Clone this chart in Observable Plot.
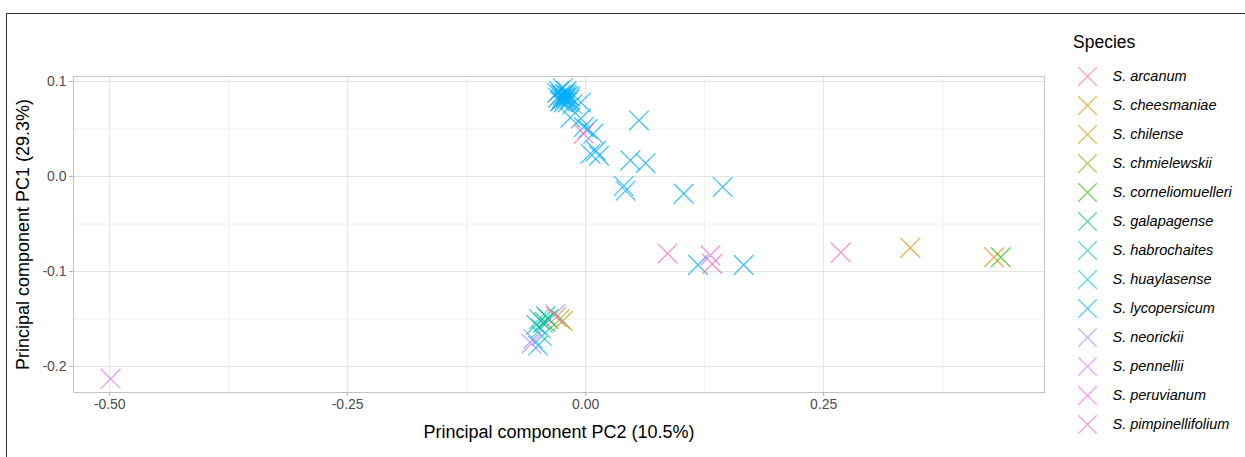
<!DOCTYPE html>
<html>
<head>
<meta charset="utf-8">
<script src="https://cdn.jsdelivr.net/npm/d3@7"></script>
<script src="https://cdn.jsdelivr.net/npm/@observablehq/plot@0.6"></script>
<style>
  html, body { margin: 0; padding: 0; background: white; }
  #wrap { position: relative; width: 1245px; height: 457px; background: white; overflow: hidden; font-family: "Liberation Sans", Arial, sans-serif; }
  #wrap svg { position: absolute; top: 0; background: transparent; }
  #border { position: absolute; left: 6px; top: 13px; right: -2px; bottom: -2px; border-top: 1px solid #333; border-left: 1px solid #333; pointer-events: none; }
  #legtitle { position: absolute; left: 1073px; top: 32px; font-size: 17.5px; line-height: 20px; color: #000; }
</style>
</head>
<body>
<div id="wrap">
  <div id="main"></div>
  <div id="legend"></div>
  <div id="legtitle">Species</div>
  <div id="border"></div>
</div>
<script>
const species = ["S. arcanum","S. cheesmaniae","S. chilense","S. chmielewskii","S. corneliomuelleri","S. galapagense","S. habrochaites","S. huaylasense","S. lycopersicum","S. neorickii","S. pennellii","S. peruvianum","S. pimpinellifolium"];
const colors = ["#F8766D","#E18A00","#BE9C00","#8CAB00","#24B700","#00BE70","#00C1AB","#00BBDA","#00ACFC","#8B93FF","#D575FE","#F962DD","#FF65AC"];

const xTicks = [-0.5, -0.25, 0, 0.25];
const xMinor = [-0.375, -0.125, 0.125, 0.375];
const yTicks = [0.1, 0, -0.1, -0.2];
const yMinor = [0.05, -0.05, -0.15];

const xLabel = "Principal component PC2 (10.5%)";
const yLabel = "Principal component PC1 (29.3%)";

// Each point: species, PC2 (x), PC1 (y)
const pointSpecies = [
  // lycopersicum dense cluster
  "S. lycopersicum","S. lycopersicum","S. lycopersicum","S. lycopersicum","S. lycopersicum",
  "S. lycopersicum","S. lycopersicum","S. lycopersicum","S. lycopersicum","S. lycopersicum",
  "S. lycopersicum","S. lycopersicum","S. lycopersicum","S. lycopersicum","S. lycopersicum",
  "S. lycopersicum","S. lycopersicum","S. lycopersicum","S. lycopersicum","S. lycopersicum",
  // lycopersicum trail
  "S. lycopersicum","S. lycopersicum","S. lycopersicum","S. lycopersicum","S. lycopersicum",
  "S. lycopersicum","S. lycopersicum","S. lycopersicum","S. lycopersicum","S. lycopersicum",
  "S. lycopersicum","S. lycopersicum","S. lycopersicum","S. lycopersicum","S. lycopersicum",
  "S. lycopersicum","S. lycopersicum","S. lycopersicum",
  // pink / right side
  "S. pimpinellifolium","S. pimpinellifolium","S. peruvianum","S. pimpinellifolium","S. pimpinellifolium",
  "S. cheesmaniae","S. cheesmaniae","S. corneliomuelleri",
  // bottom cluster
  "S. habrochaites","S. habrochaites","S. habrochaites","S. habrochaites","S. habrochaites",
  "S. galapagense","S. galapagense","S. arcanum","S. chmielewskii","S. chilense",
  "S. neorickii","S. neorickii","S. huaylasense","S. huaylasense","S. pennellii",
  // outlier
  "S. pennellii"
];
const pointPC2 = [
  -0.028,-0.024,-0.020,-0.026,-0.022,
  -0.018,-0.029,-0.025,-0.021,-0.017,
  -0.027,-0.023,-0.019,-0.024,-0.020,
  -0.026,-0.022,-0.016,-0.014,-0.030,
  -0.005,-0.016,-0.005,-0.002,0.002,
  0.008,0.011,0.014,0.005,0.056,
  0.047,0.063,0.040,0.042,0.103,
  0.144,0.118,0.166,
  -0.002,0.086,0.131,0.133,0.268,
  0.341,0.429,0.436,
  -0.049,-0.045,-0.052,-0.042,-0.047,
  -0.043,-0.039,-0.031,-0.027,-0.024,
  -0.055,-0.032,-0.050,-0.046,-0.057,
  -0.499
];
const pointPC1 = [
  0.090,0.093,0.090,0.086,0.087,
  0.085,0.083,0.082,0.083,0.081,
  0.079,0.078,0.078,0.085,0.086,
  0.080,0.081,0.084,0.076,0.088,
  0.078,0.062,0.061,0.052,0.050,
  0.045,0.027,0.022,0.024,0.059,
  0.017,0.014,-0.010,-0.015,-0.018,
  -0.011,-0.093,-0.093,
  0.045,-0.081,-0.083,-0.092,-0.080,
  -0.075,-0.085,-0.085,
  -0.150,-0.154,-0.156,-0.147,-0.160,
  -0.153,-0.150,-0.148,-0.150,-0.152,
  -0.171,-0.145,-0.178,-0.168,-0.176,
  -0.213
];

const points = pointSpecies.map((s, i) => ({species: s, pc2: pointPC2[i], pc1: pointPC1[i]}));

const W = 1245, H = 457;
const font = "Liberation Sans, Arial, sans-serif";

const main = Plot.plot({
  width: W, height: H,
  marginLeft: 73, marginRight: 201, marginTop: 76, marginBottom: 65,
  style: {fontFamily: font, background: "transparent", overflow: "visible"},
  x: {domain: [-0.538, 0.482]},
  y: {domain: [-0.2274, 0.1053]},
  color: {domain: species, range: colors},
  marks: [
    Plot.ruleX(xMinor, {stroke: "#f0f0f0", strokeWidth: 1}),
    Plot.ruleY(yMinor, {stroke: "#f0f0f0", strokeWidth: 1}),
    Plot.ruleX(xTicks, {stroke: "#e4e4e4", strokeWidth: 1}),
    Plot.ruleY(yTicks, {stroke: "#e4e4e4", strokeWidth: 1}),
    Plot.frame({stroke: "#c4c4c4", strokeWidth: 1}),
    Plot.dot(points, {x: "pc2", y: "pc1", stroke: "species", symbol: "times", r: 9, strokeWidth: 1.25, strokeOpacity: 0.75}),
    Plot.axisX({ticks: xTicks, tickFormat: d => d.toFixed(2), label: null, tickSize: 4, tickPadding: 3, fontSize: 14, fill: "#4d4d4d", stroke: "#b3b3b3"}),
    Plot.axisY({ticks: yTicks, tickFormat: d => d.toFixed(1), label: null, tickSize: 4, tickPadding: 3, fontSize: 14, fill: "#4d4d4d", stroke: "#b3b3b3"}),
    Plot.axisX({ticks: [], label: xLabel, labelAnchor: "center", labelArrow: "none", labelOffset: 45, fontSize: 18, fill: "#000"}),
    Plot.axisY({ticks: [], label: yLabel, labelAnchor: "center", labelArrow: "none", labelOffset: 57, fontSize: 18, fill: "#000"})
  ]
});
main.style.left = "0px";
document.getElementById("main").appendChild(main);

const legend = Plot.plot({
  width: 185, height: H,
  margin: 0, marginLeft: 27,
  style: {fontFamily: font, background: "transparent", overflow: "visible"},
  x: {axis: null},
  y: {type: "point", domain: species, range: [75, 425], padding: 0, axis: null},
  color: {domain: species, range: colors},
  marks: [
    Plot.dot(species, {y: d => d, frameAnchor: "left", stroke: d => d, symbol: "times", r: 8.5, strokeWidth: 1.2, strokeOpacity: 0.65}),
    Plot.text(species, {y: d => d, text: d => d, frameAnchor: "left", dx: 25, textAnchor: "start", fontStyle: "italic", fontSize: 14.5, fill: "#000"})
  ]
});
legend.style.left = "1060px";
document.getElementById("legend").appendChild(legend);
</script>
</body>
</html>
